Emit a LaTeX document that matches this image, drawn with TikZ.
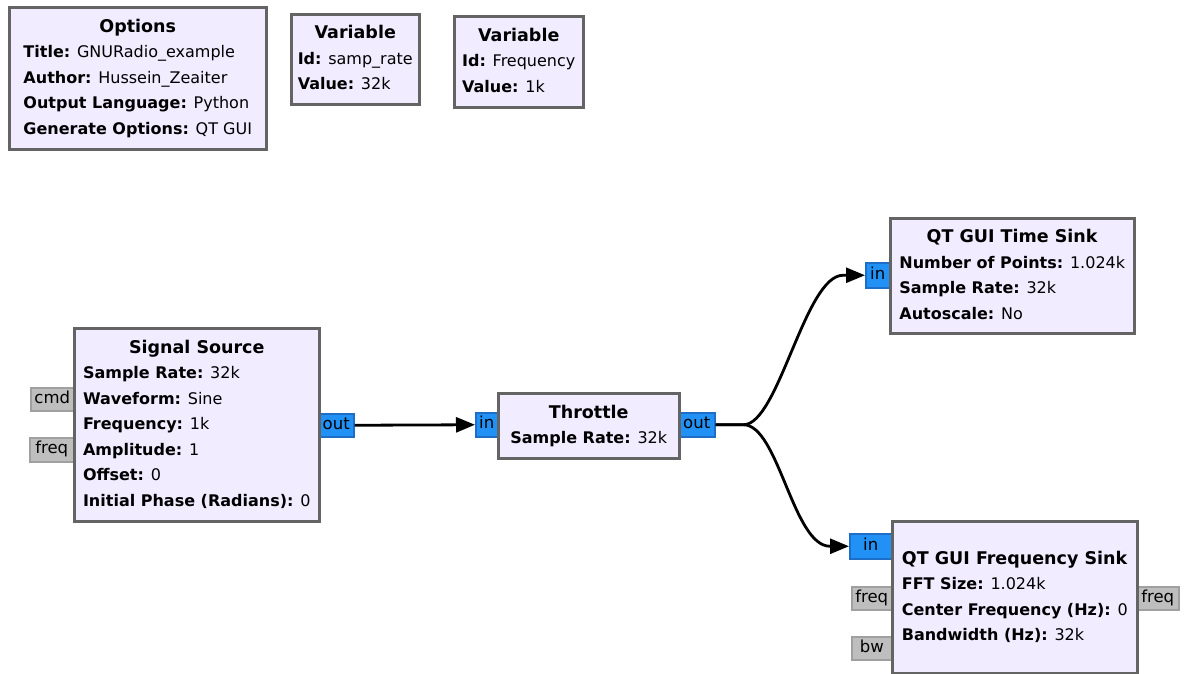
\documentclass[tikz,border=0pt]{standalone}
\usepackage{fontspec}
\setmainfont{DejaVu Sans}
\usepackage{xcolor}
\usetikzlibrary{arrows.meta}

\definecolor{blockfill}{RGB}{241,236,255}
\definecolor{blockline}{RGB}{100,100,100}
\definecolor{portblue}{RGB}{33,145,245}
\definecolor{portblueline}{RGB}{30,110,200}
\definecolor{portgray}{RGB}{190,190,190}
\definecolor{portgrayline}{RGB}{160,160,160}

\newcommand{\blocktext}[2]{\begin{tabular}{@{}l@{}}\multicolumn{1}{@{}c@{}}{\fontsize{17.5}{25.5}\selectfont\textbf{#1}}\\ #2\end{tabular}}

\tikzset{
  block/.style={draw=blockline, fill=blockfill, line width=2.5pt, inner sep=0pt, anchor=north west,
    font=\fontsize{16}{25.5}\selectfont},
  sigport/.style={draw=portblueline, fill=portblue, line width=1.5pt, inner sep=0pt, anchor=north west,
    text height=10.5pt, text depth=3pt, font=\fontsize{16.5}{18}\selectfont},
  msgport/.style={sigport, draw=portgrayline, fill=portgray},
  link/.style={line width=2.8pt, -{Triangle[length=19pt,width=15pt]}}
}

\begin{document}
\begin{tikzpicture}[x=1pt, y=-1pt]
    \useasboundingbox (0,0) rectangle (1186,673);

    \node[msgport, minimum width=43, minimum height=23] (srccmd) at (30,387) {cmd};
    \node[msgport, minimum width=44, minimum height=24] (srcfreq) at (29,437) {freq};
    \node[sigport, minimum width=35, minimum height=23] (srcout) at (318,413) {out};
    \node[sigport, minimum width=22, minimum height=24] (thrin) at (475,412) {in};
    \node[sigport, minimum width=36, minimum height=24] (throut) at (678,412) {out};
    \node[sigport, minimum width=24, minimum height=25] (timein) at (865,262) {in};
    \node[sigport, minimum width=42, minimum height=25] (freqin) at (849,533) {in};
    \node[msgport, minimum width=40, minimum height=23] (freqfreq) at (851,586) {freq};
    \node[msgport, minimum width=40, minimum height=23] (freqbw) at (851,636) {bw};
    \node[msgport, minimum width=42, minimum height=23] (freqout) at (1136,586) {freq};

    \node[block, minimum width=257, minimum height=142] (options) at (8,6)
        {\blocktext{Options}{\textbf{Title:} GNURadio\_example\\ \textbf{Author:} Hussein\_Zeaiter\\
         \textbf{Output Language:} Python\\ \textbf{Generate Options:} QT GUI}};
    \node[block, minimum width=128, minimum height=90] (varrate) at (290,13)
        {\blocktext{Variable}{\textbf{Id:} samp\_rate\\ \textbf{Value:} 32k}};
    \node[block, minimum width=129, minimum height=91] (varfreq) at (453,15)
        {\blocktext{Variable}{\textbf{Id:} Frequency\\ \textbf{Value:} 1k}};
    \node[block, minimum width=245, minimum height=193] (source) at (73,327)
        {\blocktext{Signal Source}{\textbf{Sample Rate:} 32k\\ \textbf{Waveform:} Sine\\
         \textbf{Frequency:} 1k\\ \textbf{Amplitude:} 1\\ \textbf{Offset:} 0\\
         \textbf{Initial Phase (Radians):} 0}};
    \node[block, minimum width=181, minimum height=65] (throttle) at (497,392)
        {\blocktext{Throttle}{\textbf{Sample Rate:} 32k}};
    \node[block, minimum width=244, minimum height=115] (timesink) at (889,217)
        {\blocktext{QT GUI Time Sink}{\textbf{Number of Points:} 1.024k\\
         \textbf{Sample Rate:} 32k\\ \textbf{Autoscale:} No}};
    \node[block, minimum width=245, minimum height=152] (freqsink) at (891,520)
        {\blocktext{QT GUI Frequency Sink}{\textbf{FFT Size:} 1.024k\\
         \textbf{Center Frequency (Hz):} 0\\ \textbf{Bandwidth (Hz):} 32k}};

    \coordinate (split) at ([xshift=28pt]throut.east);
    \draw[link] (srcout.east) -- (thrin.west);
    \draw[link] (throut.east) -- (split) .. controls +(35,0) and ([xshift=-60pt]timein.west)
        .. ([xshift=-22pt]timein.west) -- (timein.west);
    \draw[link] (throut.east) -- (split) .. controls +(35,0) and ([xshift=-56pt]freqin.west)
        .. ([xshift=-19pt]freqin.west) -- (freqin.west);
\end{tikzpicture}
\end{document}
